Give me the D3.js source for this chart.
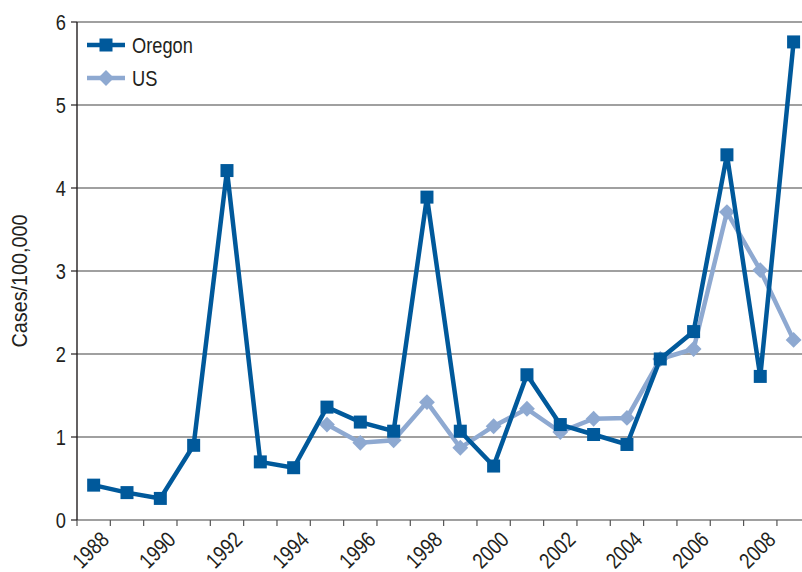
<!DOCTYPE html>
<html>
<head>
<meta charset="utf-8">
<script src="https://cdn.jsdelivr.net/npm/d3@7"></script>
<style>
    body { margin: 0; background: #fff; }
    text { font-family: "Liberation Sans", Arial, sans-serif; fill: #231f20; }
</style>
</head>
<body>
<div id="chart"></div>
<script>
var years = [1988, 1989, 1990, 1991, 1992, 1993, 1994, 1995, 1996, 1997, 1998,
             1999, 2000, 2001, 2002, 2003, 2004, 2005, 2006, 2007, 2008, 2009];
var oregon = [0.42, 0.33, 0.26, 0.90, 4.21, 0.70, 0.63, 1.36, 1.18, 1.07, 3.89,
              1.07, 0.65, 1.75, 1.15, 1.03, 0.91, 1.94, 2.27, 4.40, 1.73, 5.76];
var us = [null, null, null, null, null, null, null, 1.15, 0.93, 0.96, 1.42,
          0.87, 1.13, 1.34, 1.06, 1.22, 1.23, 1.94, 2.06, 3.71, 3.01, 2.17];
var tickLabels = ["1988", "1990", "1992", "1994", "1996", "1998", "2000", "2002", "2004", "2006", "2008"];
var yTicks = [0, 1, 2, 3, 4, 5, 6];

function init() {
    var w = 802;
    var h = 572;
    var left = 77;
    var top = 22;
    var bottom = 520;
    var bandW = 33.33;
    var narrow = " scale(0.83,1)"; // condensed look
    var darkBlue = "#00599b";
    var lightBlue = "#8ea9d1";

    var xScale = d3.scaleBand()
        .domain(years)
        .range([left, left + bandW * years.length]);

    var yScale = d3.scaleLinear()
        .domain([0, 6])
        .range([bottom, top]);

    var svg = d3.select("#chart")
        .append("svg")
        .attr("width", w)
        .attr("height", h);

    // gridlines
    svg.selectAll(".grid")
        .data(yTicks.filter(function (d) { return d > 0; }))
        .enter()
        .append("line")
        .attr("x1", left)
        .attr("x2", w)
        .attr("y1", function (d) { return yScale(d); })
        .attr("y2", function (d) { return yScale(d); })
        .attr("stroke", "#808080")
        .attr("stroke-width", 1.6);

    // x axis
    svg.append("line")
        .attr("x1", left).attr("x2", w)
        .attr("y1", bottom).attr("y2", bottom)
        .attr("stroke", "#808080")
        .attr("stroke-width", 1.6);

    svg.selectAll(".xtick")
        .data(years)
        .enter()
        .append("line")
        .attr("x1", function (d) { return xScale(d); })
        .attr("x2", function (d) { return xScale(d); })
        .attr("y1", bottom)
        .attr("y2", bottom + 6)
        .attr("stroke", "#555")
        .attr("stroke-width", 1.2);

    svg.selectAll(".xlabel")
        .data(tickLabels)
        .enter()
        .append("text")
        .attr("text-anchor", "end")
        .attr("font-size", 22)
        .attr("transform", function (d) {
            var x = xScale(+d) + xScale.bandwidth();
            return "translate(" + x + "," + (bottom + 21) + ") rotate(-45)" + narrow;
        })
        .text(function (d) { return d; });

    // y axis
    svg.append("line")
        .attr("x1", left).attr("x2", left)
        .attr("y1", top).attr("y2", bottom)
        .attr("stroke", "#231f20")
        .attr("stroke-width", 1.4);

    svg.selectAll(".ytick")
        .data(yTicks)
        .enter()
        .append("line")
        .attr("x1", left - 6)
        .attr("x2", left)
        .attr("y1", function (d) { return yScale(d); })
        .attr("y2", function (d) { return yScale(d); })
        .attr("stroke", "#231f20")
        .attr("stroke-width", 1.2);

    svg.selectAll(".ylabel")
        .data(yTicks)
        .enter()
        .append("text")
        .attr("transform", function (d) {
            return "translate(" + (left - 11) + "," + yScale(d) + ")" + narrow;
        })
        .attr("dy", "0.36em")
        .attr("text-anchor", "end")
        .attr("font-size", 22)
        .text(function (d) { return d; });

    svg.append("text")
        .attr("transform", "translate(27,281) rotate(-90) scale(0.9,1)")
        .attr("text-anchor", "middle")
        .attr("font-size", 22)
        .text("Cases/100,000");

    var cx = function (d, i) { return xScale(years[i]) + xScale.bandwidth() / 2; };

    // US series
    var usLine = d3.line()
        .defined(function (d) { return d !== null; })
        .x(cx)
        .y(function (d) { return yScale(d); });

    svg.append("path")
        .datum(us)
        .attr("d", usLine)
        .attr("fill", "none")
        .attr("stroke", lightBlue)
        .attr("stroke-width", 4.5);

    us.forEach(function (d, i) {
        if (d === null) return;
        svg.append("rect")
            .attr("x", -5.6).attr("y", -5.6)
            .attr("width", 11.2).attr("height", 11.2)
            .attr("fill", lightBlue)
            .attr("transform", "translate(" + cx(d, i) + "," + yScale(d) + ") rotate(45)");
    });

    // Oregon series
    var orLine = d3.line()
        .x(cx)
        .y(function (d) { return yScale(d); });

    svg.append("path")
        .datum(oregon)
        .attr("d", orLine)
        .attr("fill", "none")
        .attr("stroke", darkBlue)
        .attr("stroke-width", 4.5);

    svg.selectAll(".orPoint")
        .data(oregon)
        .enter()
        .append("rect")
        .attr("class", "orPoint")
        .attr("x", function (d, i) { return cx(d, i) - 6.5; })
        .attr("y", function (d) { return yScale(d) - 6.5; })
        .attr("width", 13)
        .attr("height", 13)
        .attr("fill", darkBlue);

    // legend
    var legend = [
        { name: "Oregon", color: darkBlue, shape: "square", y: 45 },
        { name: "US", color: lightBlue, shape: "diamond", y: 78 }
    ];
    legend.forEach(function (l) {
        svg.append("line")
            .attr("x1", 87).attr("x2", 125)
            .attr("y1", l.y).attr("y2", l.y)
            .attr("stroke", l.color)
            .attr("stroke-width", 4.5);
        if (l.shape === "square") {
            svg.append("rect")
                .attr("x", 106 - 6.5).attr("y", l.y - 6.5)
                .attr("width", 13).attr("height", 13)
                .attr("fill", l.color);
        } else {
            svg.append("rect")
                .attr("x", -5.6).attr("y", -5.6)
                .attr("width", 11.2).attr("height", 11.2)
                .attr("fill", l.color)
                .attr("transform", "translate(106," + l.y + ") rotate(45)");
        }
        svg.append("text")
            .attr("transform", "translate(132," + l.y + ")" + narrow)
            .attr("dy", "0.36em")
            .attr("font-size", 22)
            .text(l.name);
    });
}

window.onload = init;
</script>
</body>
</html>
